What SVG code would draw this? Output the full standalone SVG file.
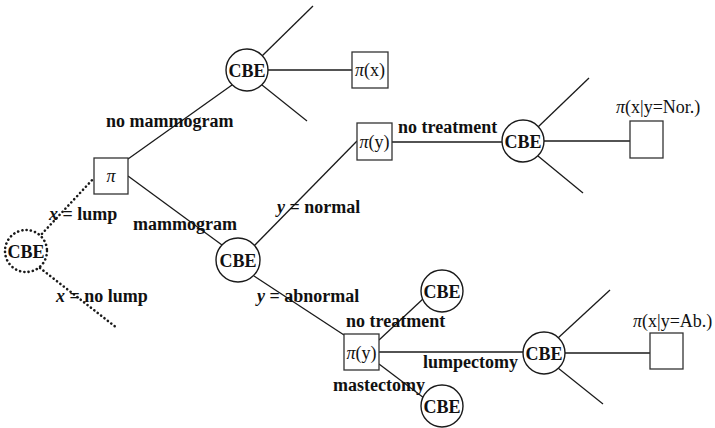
<svg xmlns="http://www.w3.org/2000/svg" width="715" height="428" viewBox="0 0 715 428">
<style>
.ln{stroke:#1a1a1a;stroke-width:1.3;fill:none}
.dot{stroke:#1a1a1a;stroke-width:2.6;fill:none;stroke-dasharray:0.1 4.2;stroke-linecap:round}
.c{fill:#fff;stroke:#1a1a1a;stroke-width:1.4}
.cd{fill:#fff;stroke:#1a1a1a;stroke-width:2.6;stroke-dasharray:0.1 4.2;stroke-linecap:round}
.b{fill:#fff;stroke:#333;stroke-width:1.3}
.t{font-family:"Liberation Serif","Times New Roman",serif;font-size:18px;fill:#111}
.bd{font-weight:bold}
.cbe{font-family:"Liberation Serif","Times New Roman",serif;font-size:18px;font-weight:bold;fill:#111;text-anchor:middle;dominant-baseline:central}
.it{font-style:italic}
</style>
<g id="connectors">
<line class="dot" x1="39" y1="237" x2="94" y2="178"/>
<line class="dot" x1="40" y1="268" x2="117" y2="328"/>
<line class="ln" x1="128" y1="159" x2="232" y2="85"/>
<line class="ln" x1="128" y1="176" x2="222" y2="245"/>
<line class="ln" x1="262" y1="56" x2="313" y2="6"/>
<line class="ln" x1="268" y1="70" x2="352" y2="70"/>
<line class="ln" x1="262" y1="85" x2="307" y2="121"/>
<line class="ln" x1="254" y1="246" x2="357" y2="141"/>
<line class="ln" x1="392" y1="142" x2="502" y2="142"/>
<line class="ln" x1="538" y1="127" x2="589" y2="78"/>
<line class="ln" x1="544" y1="141" x2="630" y2="141"/>
<line class="ln" x1="538" y1="156" x2="583" y2="193"/>
<line class="ln" x1="254" y1="276" x2="344" y2="335"/>
<line class="ln" x1="379" y1="340" x2="424" y2="298"/>
<line class="ln" x1="379" y1="352" x2="523" y2="352"/>
<line class="ln" x1="379" y1="364" x2="424" y2="398"/>
<line class="ln" x1="558" y1="338" x2="610" y2="290"/>
<line class="ln" x1="565" y1="353" x2="650" y2="353"/>
<line class="ln" x1="558" y1="368" x2="603" y2="404"/>
</g>
<g id="cbe0"><circle class="cd" cx="26" cy="251" r="21"/><text class="cbe" x="26" y="252">CBE</text></g>
<g id="pi0"><rect class="b" x="94" y="158" width="34" height="36"/><text class="t it" x="111" y="182" text-anchor="middle">π</text></g>
<g id="cbe1"><circle class="c" cx="247" cy="70" r="21"/><text class="cbe" x="247" y="71">CBE</text></g>
<g id="pix"><rect class="b" x="352" y="52" width="36" height="36"/><text class="t" x="370" y="76" text-anchor="middle"><tspan class="it">π</tspan>(x)</text></g>
<g id="cbe2"><circle class="c" cx="238" cy="260" r="22"/><text class="cbe" x="238" y="261">CBE</text></g>
<g id="piy1"><rect class="b" x="357" y="123" width="35" height="37"/><text class="t" x="374.5" y="148" text-anchor="middle"><tspan class="it">π</tspan>(y)</text></g>
<g id="cbe3"><circle class="c" cx="523" cy="141" r="21"/><text class="cbe" x="523" y="142">CBE</text></g>
<g id="pinor"><rect class="b" x="630" y="121" width="33" height="37"/><text class="t" x="616" y="113"><tspan class="it">π</tspan>(x|y=Nor.)</text></g>
<g id="piy2"><rect class="b" x="344" y="334" width="35" height="36"/><text class="t" x="361.5" y="359" text-anchor="middle"><tspan class="it">π</tspan>(y)</text></g>
<g id="cbe4"><circle class="c" cx="442" cy="291" r="21"/><text class="cbe" x="442" y="292">CBE</text></g>
<g id="cbe5"><circle class="c" cx="442" cy="406" r="21"/><text class="cbe" x="442" y="407">CBE</text></g>
<g id="cbe6"><circle class="c" cx="544" cy="353" r="21"/><text class="cbe" x="544" y="354">CBE</text></g>
<g id="piab"><rect class="b" x="650" y="333" width="33" height="36"/><text class="t" x="633" y="327"><tspan class="it">π</tspan>(x|y=Ab.)</text></g>
<g id="labels">
<text class="t bd" x="106" y="127">no mammogram</text>
<text class="t bd" x="133" y="230">mammogram</text>
<text class="t bd" x="49" y="220"><tspan class="it">x</tspan> = lump</text>
<text class="t bd" x="56" y="302"><tspan class="it">x</tspan> = no lump</text>
<text class="t bd" x="277" y="213"><tspan class="it">y</tspan> = normal</text>
<text class="t bd" x="257" y="302"><tspan class="it">y</tspan> = abnormal</text>
<text class="t bd" x="398" y="133">no treatment</text>
<text class="t bd" x="346" y="327">no treatment</text>
<text class="t bd" x="423" y="368">lumpectomy</text>
<text class="t bd" x="333" y="391">mastectomy</text>
</g>
</svg>
